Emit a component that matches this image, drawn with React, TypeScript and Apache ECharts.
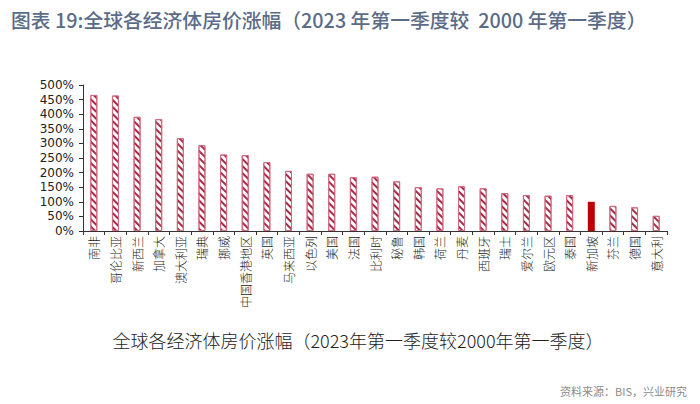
import React, { useEffect, useRef } from "react";
import * as echarts from "echarts";

const categories = [
  "南非", "哥伦比亚", "新西兰", "加拿大", "澳大利亚", "瑞典", "挪威", "中国香港地区", "英国",
  "马来西亚", "以色列", "美国", "法国", "比利时", "秘鲁", "韩国", "荷兰", "丹麦", "西班牙",
  "瑞士", "爱尔兰", "欧元区", "泰国", "新加坡", "芬兰", "德国", "意大利",
];
const values = [
  466, 464, 391, 383, 318, 294, 262, 260, 236,
  206, 196, 196, 184, 186, 170, 150, 146, 153, 146,
  130, 123, 121, 123, 100, 86, 81, 52,
];
const highlight = "新加坡";
const yTicks = { min: 0, max: 500, interval: 50 };

const titleText = "图表 19:全球各经济体房价涨幅（2023 年第一季度较  2000 年第一季度）";
const captionText = "全球各经济体房价涨幅（2023年第一季度较2000年第一季度）";
const sourceText = "资料来源：BIS，兴业研究";

export default function App() {
  const ref = useRef<HTMLDivElement>(null);
  useEffect(() => {
    document.body.style.margin = "0";
    if (!ref.current) return;
    const chart = echarts.init(ref.current, undefined, { renderer: "svg" });
    const hatched = values.map((v, i) => (categories[i] === highlight ? "-" : v));
    const solid = values.map((v, i) => (categories[i] === highlight ? v : "-"));
    chart.setOption({
      animation: false,
      backgroundColor: "#ffffff",
      title: [
        {
          text: titleText,
          left: 6,
          top: 5,
          textStyle: { fontFamily: "Noto Sans CJK SC", fontSize: 19.8, fontWeight: 500, color: "#5b6b88" },
        },
        {
          text: captionText,
          left: 353,
          textAlign: "center",
          top: 326,
          textStyle: { fontFamily: "Noto Sans CJK SC", fontSize: 18, fontWeight: 300, color: "#222" },
        },
        {
          text: sourceText,
          right: 8,
          top: 380,
          textStyle: { fontFamily: "Noto Sans CJK SC", fontSize: 11, fontWeight: 400, color: "#8a8a8a" },
        },
      ],
      grid: { left: 83, right: 33, top: 85, bottom: 173, containLabel: false },
      xAxis: {
        type: "category",
        data: categories,
        axisLine: { show: true, lineStyle: { color: "#333", width: 1 } },
        axisTick: { show: true, alignWithLabel: false, length: 4, lineStyle: { color: "#333" } },
        axisLabel: {
          rotate: 90,
          interval: 0,
          margin: 5,
          fontFamily: "Noto Sans CJK SC",
          fontWeight: 300,
          fontSize: 12,
          color: "#222",
        },
      },
      yAxis: {
        type: "value",
        min: yTicks.min,
        max: yTicks.max,
        interval: yTicks.interval,
        axisLine: { show: true, lineStyle: { color: "#333", width: 1 } },
        axisTick: { show: true, length: 4, lineStyle: { color: "#333" } },
        splitLine: { show: false },
        axisLabel: {
          formatter: "{value}%",
          margin: 9,
          fontFamily: "DejaVu Sans",
          fontSize: 12,
          color: "#222",
        },
      },
      series: [
        {
          type: "bar",
          data: hatched,
          barWidth: 7,
          barGap: "-100%",
          itemStyle: {
            color: "#ffffff",
            borderColor: "#d26a80",
            borderWidth: 1,
            decal: {
              symbol: "rect",
              symbolSize: 1,
              color: "#a52c48",
              dashArrayX: [1, 0],
              dashArrayY: [1.6, 2.4],
              rotation: Math.PI / 4,
            },
          },
        },
        {
          type: "bar",
          data: solid,
          barWidth: 7,
          barGap: "-100%",
          itemStyle: { color: "#c00000" },
        },
      ],
    });
    return () => chart.dispose();
  }, []);
  return <div ref={ref} style={{ width: 700, height: 404 }} />;
}
